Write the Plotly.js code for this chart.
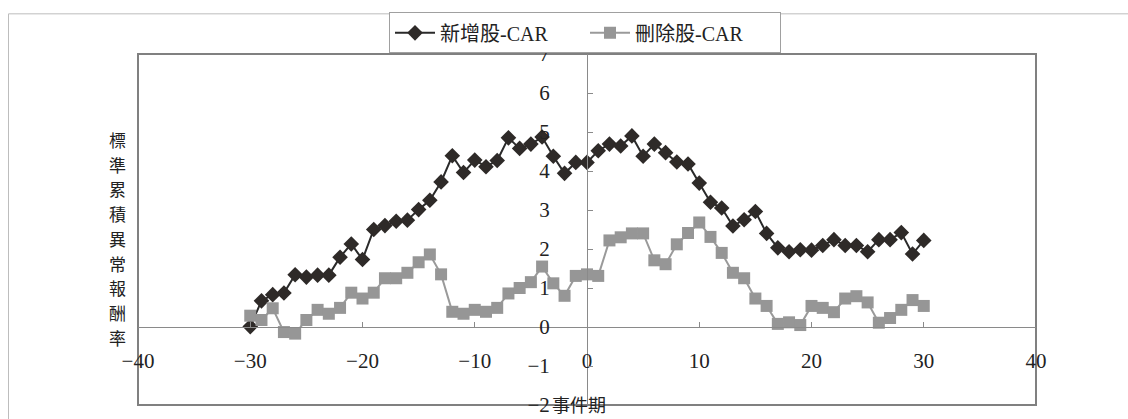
<!DOCTYPE html>
<html>
<head>
<meta charset="utf-8">
<script src="https://cdn.plot.ly/plotly-3.0.1.min.js"></script>
<style>html,body{margin:0;padding:0;background:#fff;}#chart{width:1128px;height:419px;}</style>
</head>
<body>
<div id="chart"></div>
<script>
// Event days
const eventDays = [-30,-29,-28,-27,-26,-25,-24,-23,-22,-21,-20,-19,-18,-17,-16,-15,-14,-13,-12,-11,
  -10,-9,-8,-7,-6,-5,-4,-3,-2,-1,0,1,2,3,4,5,6,7,8,9,10,
  11,12,13,14,15,16,17,18,19,20,21,22,23,24,25,26,27,28,29,30];
// 新增股-CAR
const addedCAR = [0.01,0.67,0.83,0.87,1.34,1.28,1.33,1.33,1.79,2.13,1.73,2.50,2.60,2.71,2.74,3.01,3.25,3.72,4.39,3.96,
  4.28,4.11,4.27,4.85,4.58,4.69,4.87,4.38,3.94,4.22,4.22,4.52,4.69,4.64,4.90,4.38,4.69,4.47,4.23,4.18,3.69,
  3.20,3.05,2.59,2.75,2.96,2.40,2.03,1.93,1.98,1.97,2.09,2.24,2.09,2.09,1.93,2.24,2.24,2.42,1.87,2.22];
// 刪除股-CAR
const deletedCAR = [0.29,0.18,0.48,-0.13,-0.17,0.18,0.44,0.34,0.49,0.88,0.73,0.88,1.25,1.25,1.39,1.66,1.86,1.35,0.39,0.34,
  0.44,0.39,0.49,0.86,1.00,1.15,1.55,1.12,0.80,1.31,1.35,1.31,2.22,2.30,2.40,2.40,1.71,1.61,2.12,2.41,2.68,
  2.31,1.90,1.39,1.25,0.73,0.54,0.08,0.12,0.05,0.54,0.49,0.38,0.73,0.79,0.63,0.11,0.23,0.44,0.69,0.54];
const seriesNames = ['新增股-CAR','刪除股-CAR'];
const yTitle = '標準累積異常報酬率';
const xTitle = '事件期';

const FONT = "'Liberation Serif', 'Noto Sans CJK TC', serif";
const W = 1128, H = 419, L = 138, R = 92, T = 51, B = 14;
const pw = W - L - R, ph = H - T - B;
const px2x = p => (p - L) / pw;
const py2y = p => (H - B - p) / ph;

const traces = [
  {x: eventDays, y: addedCAR, name: seriesNames[0], type: 'scatter', mode: 'lines+markers',
   line: {color: '#2a2a2a', width: 2},
   marker: {symbol: 'diamond', size: 12, color: '#2e2a28', line: {width: 0}}},
  {x: eventDays, y: deletedCAR, name: seriesNames[1], type: 'scatter', mode: 'lines+markers',
   line: {color: '#9a9a9a', width: 2},
   marker: {symbol: 'square', size: 12, color: '#969696', line: {width: 0}}}
];

const annotations = [];
Array.from(yTitle).forEach((ch, i) => {
  annotations.push({text: ch, xref: 'paper', yref: 'paper', x: px2x(117), y: py2y(139 + 25 * i),
    xanchor: 'center', yanchor: 'middle', showarrow: false, font: {family: FONT, size: 17, color: '#222'}});
});
annotations.push({text: xTitle, xref: 'paper', yref: 'paper', x: px2x(579), y: py2y(406),
  xanchor: 'center', yanchor: 'middle', showarrow: false, font: {family: FONT, size: 18, color: '#222'}});

const layout = {
  width: W, height: H,
  margin: {l: L, r: R, t: T, b: B, pad: 0},
  paper_bgcolor: '#ffffff', plot_bgcolor: '#ffffff',
  font: {family: FONT, size: 20, color: '#222'},
  showlegend: true,
  legend: {orientation: 'h', x: px2x(585), xanchor: 'center', y: py2y(9), yanchor: 'top',
    bordercolor: '#a0a0a0', borderwidth: 1, bgcolor: '#ffffff',
    font: {family: FONT, size: 20, color: '#222'}, itemwidth: 40, entrywidth: 140, traceorder: 'normal'},
  xaxis: {range: [-40, 40], tick0: 0, dtick: 10, anchor: 'free', position: 2/9,
    showline: true, linecolor: '#8a8a8a', linewidth: 1, zeroline: false, showgrid: false,
    ticks: 'inside', ticklen: 5, tickcolor: '#8a8a8a', ticklabelstandoff: 15,
    tickfont: {family: FONT, size: 21, color: '#222'}},
  yaxis: {range: [-2, 7], tick0: 0, dtick: 1, anchor: 'free', position: 0.5,
    showline: true, linecolor: '#8a8a8a', linewidth: 1, zeroline: false, showgrid: false,
    ticks: 'inside', ticklen: 5, tickcolor: '#8a8a8a', ticklabelstandoff: 33,
    tickfont: {family: FONT, size: 21, color: '#222'}},
  shapes: [
    {type: 'rect', xref: 'paper', yref: 'paper', x0: px2x(8.5), x1: px2x(1140), y0: py2y(430), y1: py2y(10.5),
     line: {color: '#bdbdbd', width: 1}, layer: 'below'},
    {type: 'rect', xref: 'paper', yref: 'paper', x0: 0, x1: 1, y0: 0, y1: 1,
     line: {color: '#808080', width: 2}, layer: 'below'}
  ],
  annotations: annotations
};

Plotly.newPlot('chart', traces, layout, {displayModeBar: false, staticPlot: true});
</script>
</body>
</html>
